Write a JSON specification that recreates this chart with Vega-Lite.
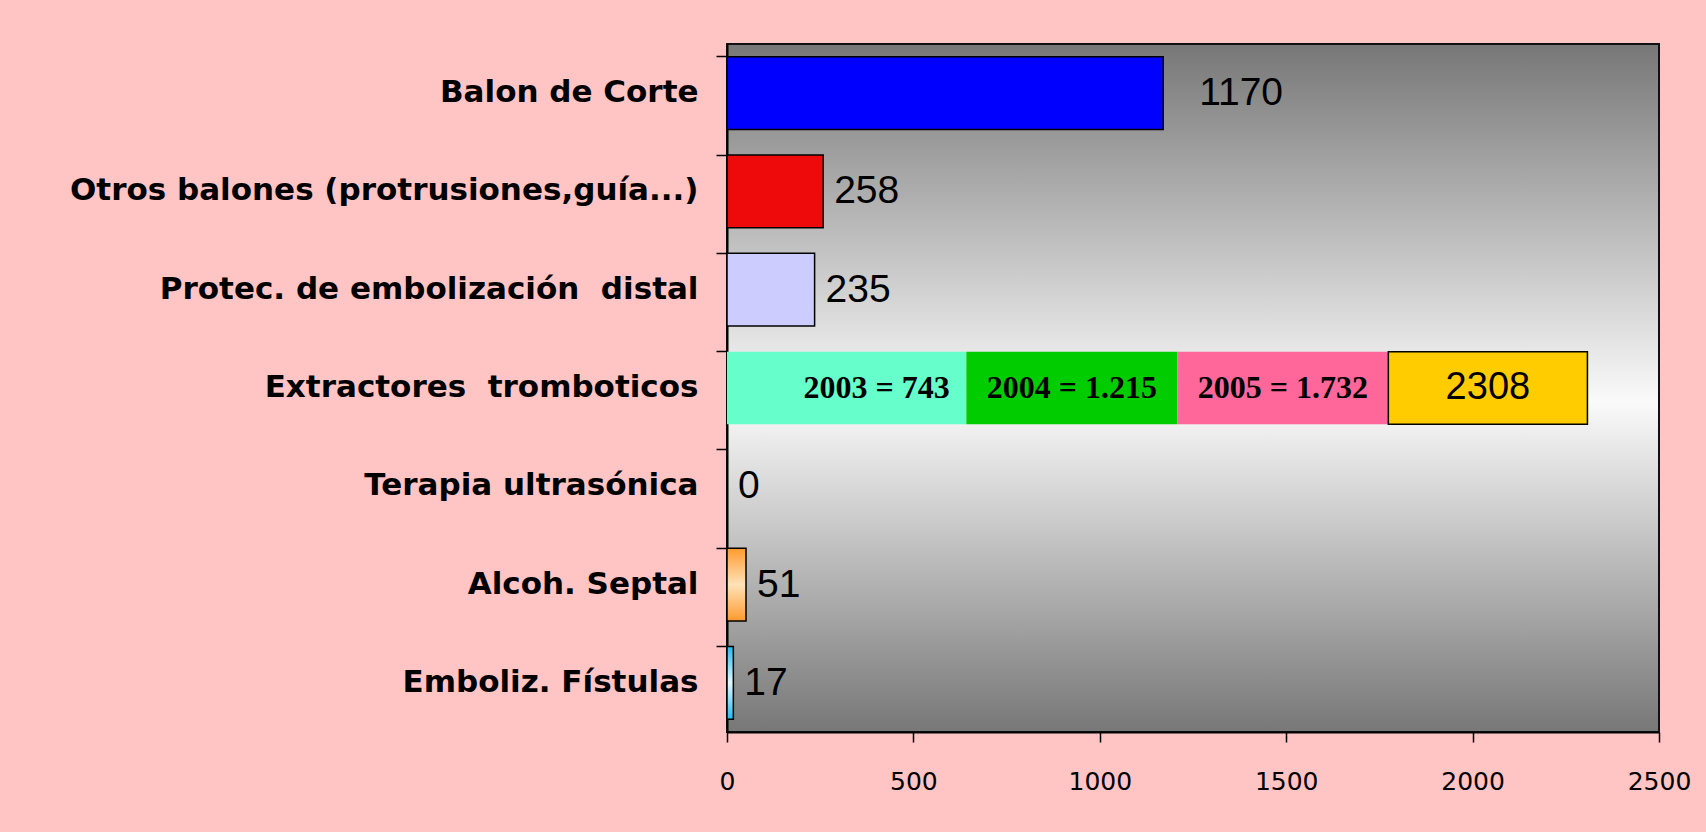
{
  "$schema": "https://vega.github.io/schema/vega-lite/v6.json",
  "autosize": {"type": "none"},
  "padding": {"left": 727, "top": 44, "right": 47, "bottom": 100},
  "width": 932,
  "height": 688,
  "background": "#FFC4C4",
  "view": {
    "fill": {"gradient": "linear", "x1": 0, "y1": 0, "x2": 0, "y2": 1,
      "stops": [{"offset": 0, "color": "#777777"}, {"offset": 0.52, "color": "#FAFAFA"}, {"offset": 1, "color": "#777777"}]},
    "stroke": "#111111",
    "strokeWidth": 2
  },
  "data": {"values": [
    {"cat": "Balon de Corte", "series": "Balon", "value": 1170, "ord": 1, "label": "1170"},
    {"cat": "Otros balones (protrusiones,guía...)", "series": "Otros", "value": 258, "ord": 1, "label": "258"},
    {"cat": "Protec. de embolización\u00a0 distal", "series": "Protec", "value": 235, "ord": 1, "label": "235"},
    {"cat": "Extractores\u00a0 tromboticos", "series": "2003", "value": 642, "ord": 1, "label": "2003 = 743"},
    {"cat": "Extractores\u00a0 tromboticos", "series": "2004", "value": 566, "ord": 2, "label": "2004 = 1.215"},
    {"cat": "Extractores\u00a0 tromboticos", "series": "2005", "value": 566, "ord": 3, "label": "2005 = 1.732"},
    {"cat": "Extractores\u00a0 tromboticos", "series": "2006", "value": 534, "ord": 4, "label": "2308"},
    {"cat": "Terapia ultrasónica", "series": "Terapia", "value": 0, "ord": 1, "label": "0"},
    {"cat": "Alcoh. Septal", "series": "Alcoh", "value": 51, "ord": 1, "label": "51"},
    {"cat": "Emboliz. Fístulas", "series": "Emboliz", "value": 17, "ord": 1, "label": "17"}
  ]},
  "encoding": {
    "y": {
      "field": "cat", "type": "nominal",
      "sort": ["Balon de Corte", "Otros balones (protrusiones,guía...)", "Protec. de embolización\u00a0 distal", "Extractores\u00a0 tromboticos", "Terapia ultrasónica", "Alcoh. Septal", "Emboliz. Fístulas"],
      "scale": {"paddingInner": 0.26, "paddingOuter": 0.13},
      "axis": {
        "title": null, "bandPosition": 0, "labelFont": "DejaVu Sans", "labelFontWeight": "bold",
        "labelFontSize": 31, "labelColor": "#000000", "labelLimit": 900, "labelPadding": 18,
        "tickSize": 11, "tickColor": "#000000", "tickWidth": 1.5, "domainColor": "#000000", "domainWidth": 2
      }
    }
  },
  "layer": [
    {
      "transform": [{"filter": "datum.series != 'Alcoh' && datum.series != 'Emboliz' && datum.series != 'Terapia'"}],
      "mark": {"type": "bar", "stroke": "#000000"},
      "encoding": {
        "x": {
          "field": "value", "type": "quantitative", "stack": "zero",
          "scale": {"domain": [0, 2500], "nice": false, "zero": true},
          "axis": {
            "title": null, "values": [0, 500, 1000, 1500, 2000, 2500], "format": "d", "grid": false,
            "labelFont": "DejaVu Sans", "labelFontSize": 25, "labelColor": "#000000", "labelFlush": false,
            "labelPadding": 27, "tickSize": 10, "tickColor": "#000000", "tickWidth": 1.5,
            "domainColor": "#000000", "domainWidth": 2
          }
        },
        "color": {
          "field": "series", "type": "nominal", "legend": null,
          "scale": {
            "domain": ["Balon", "Otros", "Protec", "2003", "2004", "2005", "2006"],
            "range": ["#0000FF", "#EE0A0A", "#CCCCFF", "#66FFCC", "#00CC00", "#FF6699", "#FFCC00"]
          }
        },
        "order": {"field": "ord", "type": "quantitative"},
        "strokeWidth": {"condition": {"test": "datum.series == '2003' || datum.series == '2004' || datum.series == '2005'", "value": 0}, "value": 1.5}
      }
    },
    {
      "transform": [{"filter": "datum.series == 'Alcoh'"}],
      "mark": {"type": "bar", "stroke": "#000000", "strokeWidth": 1.5,
        "color": {"gradient": "linear", "x1": 0, "y1": 0, "x2": 0, "y2": 1,
          "stops": [{"offset": 0, "color": "#FF9A2E"}, {"offset": 0.5, "color": "#FFE2B8"}, {"offset": 1, "color": "#FF9A2E"}]}},
      "encoding": {"x": {"field": "value", "type": "quantitative"}}
    },
    {
      "transform": [{"filter": "datum.series == 'Emboliz'"}],
      "mark": {"type": "bar", "stroke": "#000000", "strokeWidth": 1.5,
        "color": {"gradient": "linear", "x1": 0, "y1": 0, "x2": 0, "y2": 1,
          "stops": [{"offset": 0, "color": "#22BBEE"}, {"offset": 0.5, "color": "#E4F8FF"}, {"offset": 1, "color": "#22BBEE"}]}},
      "encoding": {"x": {"field": "value", "type": "quantitative"}}
    },
    {
      "transform": [{"filter": "datum.ord == 1 && datum.series != '2003' && datum.value < 1000"}],
      "mark": {"type": "text", "align": "left", "baseline": "middle", "dx": 11, "font": "Liberation Sans", "fontSize": 39, "color": "#000000"},
      "encoding": {"x": {"field": "value", "type": "quantitative"}, "text": {"field": "label"}}
    },
    {
      "transform": [{"filter": "datum.series == 'Balon'"}],
      "mark": {"type": "text", "align": "left", "baseline": "middle", "dx": 36, "font": "Liberation Sans", "fontSize": 39, "color": "#000000"},
      "encoding": {"x": {"field": "value", "type": "quantitative"}, "text": {"field": "label"}}
    },
    {
      "transform": [{"filter": "datum.cat == 'Extractores\u00a0 tromboticos'"}],
      "mark": {"type": "text", "align": "center", "baseline": "middle", "font": "Liberation Serif", "fontWeight": "bold", "fontSize": 32, "color": "#000000"},
      "encoding": {
        "x": {"field": "value", "type": "quantitative", "stack": "zero", "bandPosition": 0.5},
        "detail": {"field": "series"},
        "order": {"field": "ord", "type": "quantitative"},
        "text": {"condition": {"test": "datum.series == '2004' || datum.series == '2005'", "field": "label"}, "value": ""}
      }
    },
    {
      "transform": [{"filter": "datum.cat == 'Extractores\u00a0 tromboticos'"}],
      "mark": {"type": "text", "align": "center", "baseline": "middle", "dx": 30, "font": "Liberation Serif", "fontWeight": "bold", "fontSize": 32, "color": "#000000"},
      "encoding": {
        "x": {"field": "value", "type": "quantitative", "stack": "zero", "bandPosition": 0.5},
        "detail": {"field": "series"},
        "order": {"field": "ord", "type": "quantitative"},
        "text": {"condition": {"test": "datum.series == '2003'", "field": "label"}, "value": ""}
      }
    },
    {
      "transform": [{"filter": "datum.cat == 'Extractores\u00a0 tromboticos'"}],
      "mark": {"type": "text", "align": "center", "baseline": "middle", "dx": 0, "font": "Liberation Sans", "fontSize": 38, "color": "#000000"},
      "encoding": {
        "x": {"field": "value", "type": "quantitative", "stack": "zero", "bandPosition": 0.5},
        "detail": {"field": "series"},
        "order": {"field": "ord", "type": "quantitative"},
        "text": {"condition": {"test": "datum.series == '2006'", "field": "label"}, "value": ""}
      }
    }
  ]
}
